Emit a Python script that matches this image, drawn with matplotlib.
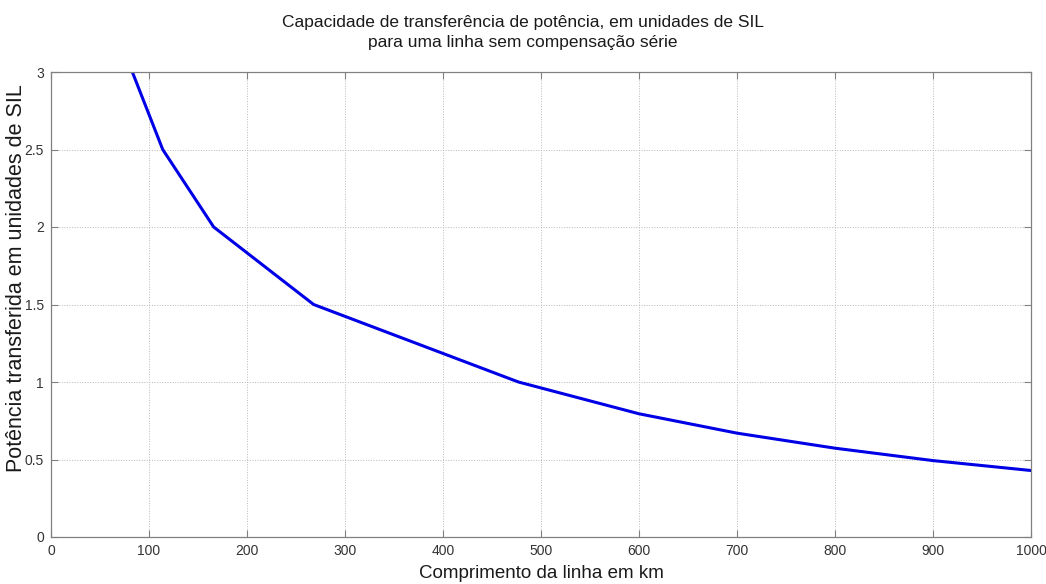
from matplotlib import pyplot as plt

plt.rcParams['font.family'] = ['Liberation Sans', 'DejaVu Sans']

# comprimento da linha (km) x potencia em unidades de SIL
comprimento = [83, 114, 166, 268, 477, 600, 700, 800, 900, 1000]
potencia = [3.0, 2.5, 2.0, 1.5, 1.0, 0.795, 0.67, 0.573, 0.493, 0.429]

xticks = [0, 100, 200, 300, 400, 500, 600, 700, 800, 900, 1000]
yticks = [0, 0.5, 1, 1.5, 2, 2.5, 3]
ytick_labels = ['0', '0.5', '1', '1.5', '2', '2.5', '3']

fig = plt.figure(figsize=(10.46, 5.84), dpi=100)
ax = fig.add_axes([51 / 1046, 47 / 584, 980 / 1046, 465 / 584])

ax.plot(comprimento, potencia, color='#0000e6', linewidth=2.2)

ax.set_xlim(0, 1000)
ax.set_ylim(0, 3)
ax.set_xticks(xticks)
ax.set_yticks(yticks)
ax.set_yticklabels(ytick_labels)
ax.grid(True, linestyle=':', color='#b8b8b8', linewidth=0.7)
ax.tick_params(axis='both', direction='in', length=5, width=0.8, colors='#808080',
               labelcolor='#333333', labelsize=10, top=True, right=True, pad=5)
for s in ax.spines.values():
    s.set_color('#808080')
    s.set_linewidth(0.9)

fig.text(0.5, 1 - 23 / 584, 'Capacidade de transferência de potência, em unidades de SIL',
         ha='center', va='center', fontsize=12.5, color='#1a1a1a')
fig.text(0.5, 1 - 42 / 584, 'para uma linha sem compensação série',
         ha='center', va='center', fontsize=12.5, color='#1a1a1a')
fig.text(541 / 1046, 1 - 574 / 584, 'Comprimento da linha em km', ha='center', va='center',
         fontsize=13.5, color='#1a1a1a')
fig.text(17 / 1046, 1 - 278 / 584, 'Potência transferida em unidades de SIL', ha='center',
         va='center', rotation=90, fontsize=15.5, color='#1a1a1a')

plt.savefig('out.png', dpi=100)
